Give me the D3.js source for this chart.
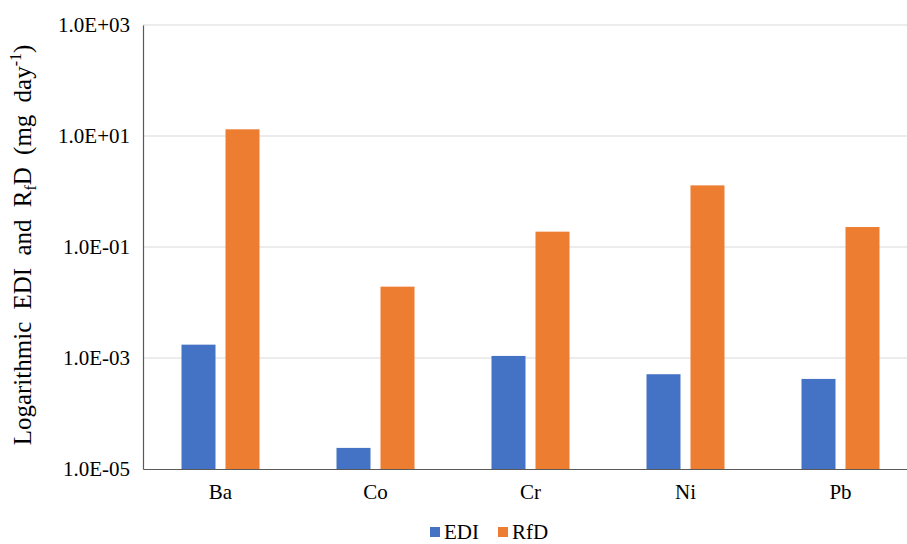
<!DOCTYPE html>
<html>
<head>
<meta charset="utf-8">
<script src="https://cdn.jsdelivr.net/npm/d3@7"></script>
<style>
  html, body { margin: 0; padding: 0; background: #fff; }
  svg text { font-family: "Liberation Serif", "Times New Roman", serif; fill: #000; }
</style>
</head>
<body>
<svg id="chart" width="907" height="544"></svg>
<script>
// Metals on the x axis
const metals = ["Ba", "Co", "Cr", "Ni", "Pb"];
// Estimated daily intake (mg day^-1)
const ediValues = [1.74e-3, 2.4e-5, 1.09e-3, 5.1e-4, 4.2e-4];
// Reference dose (mg day^-1)
const rfdValues = [13.2, 0.0193, 0.189, 1.29, 0.229];
// Series names and y tick values
const seriesNames = ["EDI", "RfD"];
const yTicks = [1e-5, 1e-3, 1e-1, 1e1, 1e3];

const colors = { EDI: "#4472C4", RfD: "#ED7D31" };

const svg = d3.select("#chart");
const margin = { left: 143, top: 25, bottom: 75 };
const plotW = 775;               // plot runs off the right edge of the page
const plotH = 544 - margin.top - margin.bottom;

const g = svg.append("g").attr("transform", `translate(${margin.left},${margin.top})`);

const x0 = d3.scaleBand().domain(metals).range([0, plotW]).padding(0);
const groupW = 78;
const x1 = d3.scaleBand().domain(seriesNames).range([-groupW / 2, groupW / 2])
  .paddingInner(0.2273).paddingOuter(0);
const y = d3.scaleLog().domain([1e-5, 1e3]).range([plotH, 0]);

function sci(v) {
  const e = Math.round(Math.log10(v));
  const m = v / Math.pow(10, e);
  const sign = e < 0 ? "-" : "+";
  return m.toFixed(1) + "E" + sign + String(Math.abs(e)).padStart(2, "0");
}

// Gridlines
g.append("g").selectAll("line").data(yTicks.slice(1)).join("line")
  .attr("x1", 0).attr("x2", plotW)
  .attr("y1", d => y(d)).attr("y2", d => y(d))
  .attr("stroke", "#d9d9d9").attr("stroke-width", 1);

// Bars
const rows = metals.map((m, i) => ({ metal: m, EDI: ediValues[i], RfD: rfdValues[i] }));
const groups = g.append("g").selectAll("g").data(rows).join("g")
  .attr("transform", d => `translate(${x0(d.metal) + x0.bandwidth() / 2},0)`);
groups.selectAll("rect").data(d => seriesNames.map(s => ({ s, v: d[s] }))).join("rect")
  .attr("x", d => x1(d.s))
  .attr("width", x1.bandwidth())
  .attr("y", d => y(d.v))
  .attr("height", d => y(1e-5) - y(d.v))
  .attr("fill", d => colors[d.s]);

// Y axis
const yAxis = g.append("g")
  .call(d3.axisLeft(y).tickValues(yTicks).tickFormat(sci).tickSize(0).tickPadding(13));
yAxis.select(".domain").attr("stroke", "#595959").attr("stroke-width", 1.2);
yAxis.selectAll("text").attr("font-size", 21).style("font-family", "Liberation Serif");

// X axis
const xAxis = g.append("g").attr("transform", `translate(0,${plotH})`)
  .call(d3.axisBottom(x0).tickSize(0).tickPadding(15));
xAxis.select(".domain").attr("stroke", "#595959").attr("stroke-width", 1.2);
xAxis.selectAll("text").attr("font-size", 21).style("font-family", "Liberation Serif");

// Y axis title
const title = svg.append("text")
  .attr("transform", "translate(31,245) rotate(-90)")
  .attr("text-anchor", "middle")
  .attr("font-size", 25)
  .attr("word-spacing", 6);
title.append("tspan").text("Logarithmic EDI and R");
title.append("tspan").attr("font-size", 16).attr("dy", 5).text("f");
title.append("tspan").attr("dy", -5).text("D (mg day");
title.append("tspan").attr("font-size", 16).attr("dy", -10).text("-1");
title.append("tspan").attr("dy", 10).text(")");

// Legend
const legend = svg.append("g").attr("transform", "translate(430,532)");
const legendX = [0, 68];
seriesNames.forEach((s, i) => {
  const item = legend.append("g").attr("transform", `translate(${legendX[i]},0)`);
  item.append("rect").attr("x", 0).attr("y", -5).attr("width", 10).attr("height", 10).attr("fill", colors[s]);
  item.append("text").attr("x", 14).attr("y", 7).attr("font-size", 21).text(s);
});
</script>
</body>
</html>
